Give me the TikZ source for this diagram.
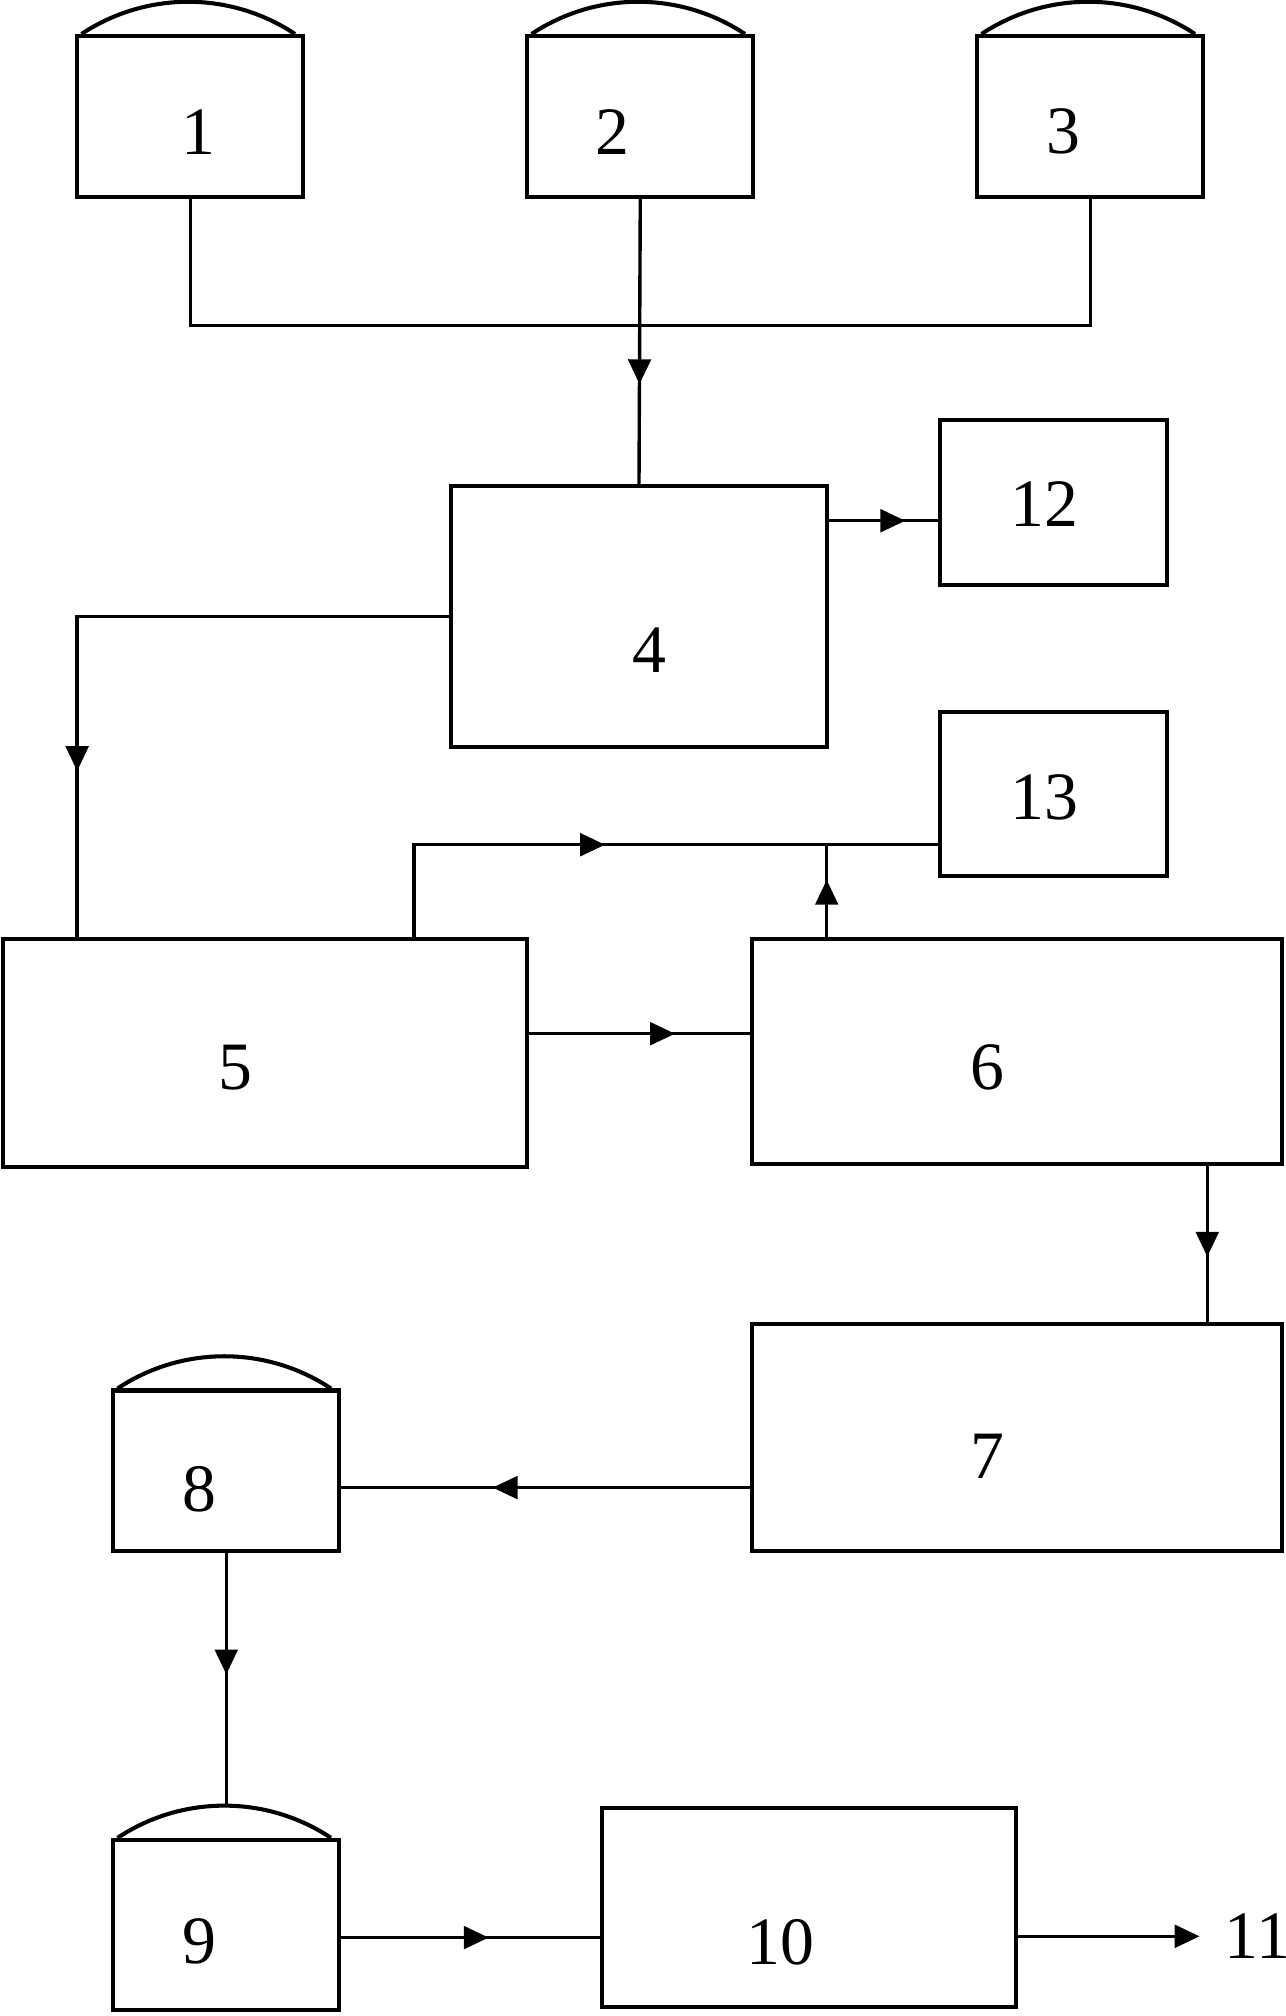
\documentclass[tikz,border=0pt]{standalone}
\usepackage{fontspec}
\setmainfont{Liberation Serif}
\usetikzlibrary{arrows.meta,decorations.markings,positioning}

\begin{document}
\begin{tikzpicture}[x=0.1mm,y=0.1mm,
  box/.style={draw,line width=0.9pt,inner sep=0pt},
  num/.style n args={3}{label={[font=\fontsize{15}{18}\selectfont,xshift=#2,yshift=#3]center:#1}},
  flow/.style={line width=0.75pt},
  midarrow/.style={flow,postaction={decorate},decoration={markings,mark=at position #1 with {\arrow{Triangle[length=5.5pt,width=5pt]}}}}]
\useasboundingbox (0,0) rectangle (1000,-1568);

% tanks and units
\node[box,minimum width=17.6mm,minimum height=12.5mm,num={1}{0.6mm}{-1.2mm}] (t1) at (148,-90.5) {};
\node[box,minimum width=17.6mm,minimum height=12.5mm,num={2}{-2.2mm}{-1.2mm}] (t2) at (498,-90.5) {};
\node[box,minimum width=17.6mm,minimum height=12.5mm,num={3}{-2.1mm}{-1.2mm}] (t3) at (848,-90.5) {};
\node[box,minimum width=29.3mm,minimum height=20.3mm,num={4}{0.8mm}{-2.6mm}] (b4) at (497,-479.5) {};
\node[box,minimum width=17.7mm,minimum height=12.8mm,num={12}{-0.7mm}{-0.1mm}] (b12) at (819.5,-391) {};
\node[box,minimum width=17.7mm,minimum height=12.7mm,num={13}{-0.7mm}{-0.3mm}] (b13) at (819.5,-617.5) {};
\node[box,minimum width=40.8mm,minimum height=17.7mm,num={5}{-2.3mm}{-1.1mm}] (b5) at (206,-819) {};
\node[box,minimum width=41.2mm,minimum height=17.5mm,num={6}{-2.3mm}{-1.2mm}] (b6) at (791,-818) {};
\node[box,minimum width=41.2mm,minimum height=17.6mm,num={7}{-2.3mm}{-1.5mm}] (b7) at (791,-1118) {};
\node[box,minimum width=17.6mm,minimum height=12.5mm,num={8}{-2.1mm}{-1.4mm}] (t8) at (176,-1144) {};
\node[box,minimum width=17.6mm,minimum height=13.2mm,num={9}{-2.1mm}{-1.3mm}] (t9) at (176,-1497) {};
\node[box,minimum width=32.2mm,minimum height=15.5mm,num={10}{-2.2mm}{-2.7mm}] (b10) at (629,-1483.5) {};
\node[anchor=west,inner sep=0pt,font=\fontsize{15}{18}\selectfont] (n11) at (952,-1506) {11};

% domes
\foreach \t in {t1,t2,t3,t8,t9}
  \draw[line width=0.9pt] ([xshift=0.5mm]\t.north west) arc[start angle=123.6,end angle=56.4,radius=15mm];

% connectors
\coordinate (mj) at (498,-253);
\coordinate (p12) at ([yshift=-1.4mm]b12.west);
\coordinate (p5) at ([xshift=-14.6mm]b5.north);
\coordinate (p5b) at ([xshift=11.6mm]b5.north);
\coordinate (jn) at (643,-657);
\coordinate (p6) at ([yshift=1.4mm]b6.west);
\coordinate (p7) at ([xshift=14.8mm]b7.north);
\coordinate (p8) at ([yshift=-1.3mm]t8.east);
\coordinate (p9) at ([yshift=2.5mm]t9.north);
\coordinate (p10) at ([yshift=-2.35mm]b10.west);

\draw[flow] (t1.south) |- (mj) -| (t3.south);
\draw[midarrow=0.65] (t2.south) -- (b4.north);
\draw[midarrow=0.7] (p12 -| b4.east) -- (p12);
\draw[midarrow=0.76] (b4.west) -| (p5);
\draw[midarrow=0.46] (p5b) |- (jn) -- (jn -| b13.west);
\draw[midarrow=0.62] (jn |- b6.north) -- (jn);
\draw[midarrow=0.66] (p6 -| b5.east) -- (p6);
\draw[midarrow=0.58] (p7 |- b6.south) -- (p7);
\draw[midarrow=0.63] (p8 -| b7.west) -- (p8);
\draw[midarrow=0.48] (t8.south) -- (p9);
\draw[midarrow=0.57] (p10 -| t9.east) -- (p10);
\draw[flow,-{Triangle[length=5.5pt,width=5pt]},shorten >=1.9mm] (n11.west -| b10.east) -- (n11.west);
\end{tikzpicture}
\end{document}
